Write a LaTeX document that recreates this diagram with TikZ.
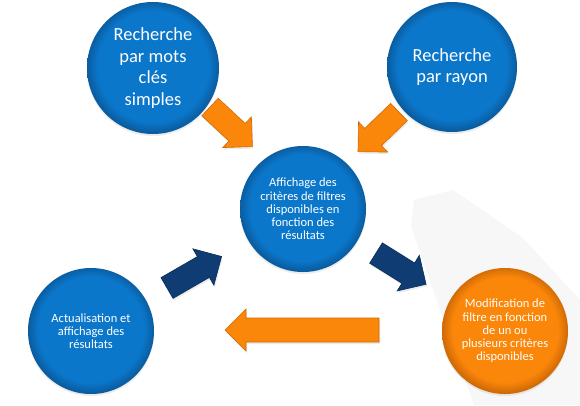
\documentclass[tikz,border=0pt]{standalone}
\usepackage{fontspec}
\setmainfont{Carlito}
\usetikzlibrary{shadows}
\definecolor{cblue}{HTML}{0B77CB}
\definecolor{cbluedark}{HTML}{0A5C9F}
\definecolor{corange}{HTML}{FA860A}
\definecolor{corangedark}{HTML}{D06A05}
\definecolor{cnavy}{HTML}{0F3C73}
\definecolor{cnavydark}{HTML}{0A2C58}
\definecolor{cbg}{HTML}{F7F7F7}
\pgfdeclareradialshading{bevelblue}{\pgfpoint{0bp}{1bp}}{color(0bp)=(cblue); color(21bp)=(cblue); color(25bp)=(cbluedark); color(50bp)=(cbluedark)}
\pgfdeclareradialshading{bevelorange}{\pgfpoint{0bp}{1bp}}{color(0bp)=(corange); color(21bp)=(corange); color(25bp)=(corangedark); color(50bp)=(corangedark)}
\tikzset{
  bub/.style={circle, inner sep=0pt, text=white, align=center, shade,
    drop shadow={shadow xshift=0pt, shadow yshift=-2pt, opacity=0.15, fill=black!50}},
  bluebub/.style={bub, shading=bevelblue},
  orangebub/.style={bub, shading=bevelorange},
  bigtext/.style={font=\fontsize{18.5}{21.5}\selectfont},
  smalltext/.style={font=\fontsize{12.5}{13.3}\selectfont},
  orangearr/.style={fill=corange, draw=corangedark, line width=0.6pt, line join=miter,
    drop shadow={shadow xshift=1pt, shadow yshift=-2pt, opacity=0.15, fill=black!50}},
  navyarr/.style={fill=cnavy, draw=cnavydark, line width=0.6pt, line join=miter,
    drop shadow={shadow xshift=1pt, shadow yshift=-2pt, opacity=0.15, fill=black!50}},
}
% name, tail position, angle, length, style
\newcommand\blockarrow[5]{%
  \coordinate (#1) at (#2);
  \path[#5, shift={(#1)}, rotate=#3]
    (0,-12) -- ({#4-21},-12) -- ({#4-21},-21) -- (#4,0) -- ({#4-21},21) -- ({#4-21},12) -- (0,12) -- cycle;
}
\begin{document}
\begin{tikzpicture}[x=1pt, y=-1pt]
  \fill[white] (0,0) rectangle (580,405);
  \useasboundingbox (0,0) rectangle (580,405);
  % light background wedge
  \fill[cbg] (411,227) -- (414,200) -- (453,190) -- (523,238) -- (580,300) -- (580,405) -- (474,405) -- cycle;

  % arrows
  \blockarrow{a1}{210,107}{-43}{58}{orangearr}
  \blockarrow{a2}{399,112}{-136}{57}{orangearr}
  \blockarrow{a3}{376,253}{-32}{59}{navyarr}
  \blockarrow{a4}{167,288}{30}{63}{navyarr}
  \blockarrow{a5}{379,330}{180}{154}{orangearr}

  % circles
  \node[bluebub, bigtext, minimum size=132pt] (kw) at (153,68) {Recherche\\par mots\\clés\\simples};
  \node[bluebub, bigtext, minimum size=130pt] (ray) at (452,67) {Recherche\\par rayon};
  \node[bluebub, smalltext, minimum size=126pt] (aff) at (303,209) {Affichage des\\critères de filtres\\disponibles en\\fonction des\\résultats};
  \node[bluebub, smalltext, minimum size=126pt] (act) at (91,331) {Actualisation et\\affichage des\\résultats};
  \node[orangebub, smalltext, minimum size=126pt] (mod) at (505,331) {Modification de\\filtre en fonction\\de un ou\\plusieurs critères\\disponibles};
\end{tikzpicture}
\end{document}
